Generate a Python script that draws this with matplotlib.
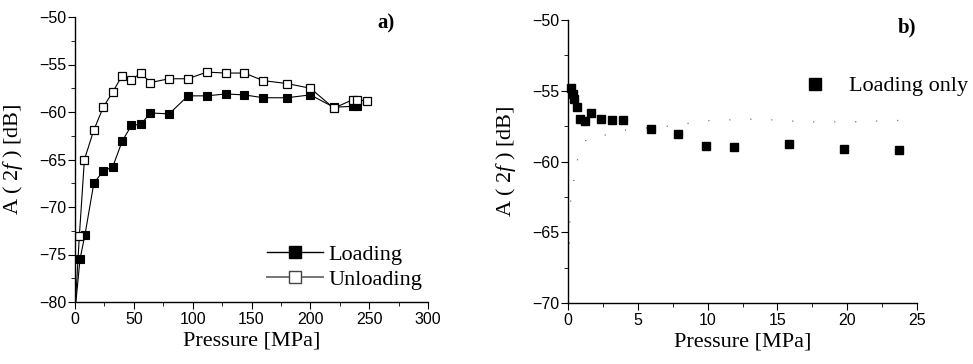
import matplotlib
matplotlib.use("Agg")
import matplotlib.pyplot as plt
from matplotlib.lines import Line2D
from matplotlib.ticker import MultipleLocator

# ---- data -------------------------------------------------------------
# panel a: amplitude of the second harmonic vs pressure, full cycle
load_p = [0, 4.25, 8.5, 16, 24, 32, 40, 48, 56, 64, 80, 96, 112, 128, 144,
          160, 180, 200, 220, 236, 240]
load_a = [-81, -75.5, -72.9, -67.5, -66.2, -65.8, -63.1, -61.4, -61.3, -60.1,
          -60.2, -58.3, -58.3, -58.1, -58.2, -58.5, -58.5, -58.2, -59.5,
          -59.4, -59.4]

unload_p = [0, 3.7, 8, 16, 24, 32, 40, 48, 56, 64, 80, 96, 112, 128, 144,
            160, 180, 200, 220, 236, 240, 248]
unload_a = [-81, -73.05, -65.0, -61.9, -59.5, -57.9, -56.2, -56.6, -55.9,
            -56.9, -56.5, -56.5, -55.8, -55.9, -55.9, -56.7, -57.0, -57.5,
            -59.6, -58.7, -58.7, -58.85]

# panel b: low-pressure loading only
lo_p = [0.25, 0.33, 0.43, 0.62, 0.86, 1.19, 1.62, 2.38, 3.17, 3.95, 5.93,
        7.9, 9.88, 11.9, 15.8, 19.8, 23.7]
lo_a = [-54.83, -55.23, -55.6, -56.17, -57.0, -57.12, -56.6, -56.98, -57.1,
        -57.05, -57.73, -58.04, -58.93, -58.98, -58.75, -59.1, -59.2]

# fitted trend curve for panel b
fit_p = [0.10, 0.14, 0.21, 0.31, 0.50, 0.69, 1.05, 1.38, 1.74, 2.6, 3.43,
         5.1, 6.8, 10.2, 13.6, 17.0, 20.3, 23.7]
fit_a = [-65.8, -63.86, -62.5, -62.2, -60.66, -59.85, -58.84, -58.37,
         -58.25, -58.15, -57.85, -57.66, -57.55, -57.1, -57.0, -57.2,
         -57.2, -57.1]

# ---- style ------------------------------------------------------------
plt.rcParams.update({
    "font.family": "Liberation Sans",
    "font.size": 11.5,
    "mathtext.fontset": "custom",
    "mathtext.rm": "Liberation Serif",
    "mathtext.it": "Liberation Serif:italic",
    "axes.linewidth": 1.0,
    "xtick.direction": "out",
    "ytick.direction": "out",
    "xtick.major.size": 5,
    "ytick.major.size": 5,
    "xtick.minor.size": 3,
    "ytick.minor.size": 3,
    "xtick.major.pad": 2.5,
    "ytick.major.pad": 1.0,
})
SERIF = "Liberation Serif"

fig = plt.figure(figsize=(9.73, 3.64), dpi=100)
ax_a = fig.add_axes([75 / 973, 62 / 364, 353 / 973, 285 / 364])
ax_b = fig.add_axes([568 / 973, 61 / 364, 349 / 973, 283 / 364])

for ax in (ax_a, ax_b):
    ax.spines["top"].set_visible(False)
    ax.spines["right"].set_visible(False)
    ax.set_xlabel("Pressure [MPa]", family=SERIF, fontsize=16, labelpad=3)
    ax.set_ylabel(r"A ( $\mathit{2f}$ ) [dB]", family=SERIF, fontsize=16)

# ---- panel a ----------------------------------------------------------
ax_a.plot(load_p, load_a, color="black", lw=0.8, marker="s", ms=6.2,
          mfc="black", mec="black", mew=0.8)
ax_a.plot(unload_p, unload_a, color="black", lw=0.8, marker="s", ms=6.2,
          mfc="white", mec="black", mew=0.9)
ax_a.set_xlim(0, 300)
ax_a.set_ylim(-80, -50)
ax_a.xaxis.set_major_locator(MultipleLocator(50))
ax_a.xaxis.set_minor_locator(MultipleLocator(25))
ax_a.yaxis.set_major_locator(MultipleLocator(5))
ax_a.yaxis.set_minor_locator(MultipleLocator(2.5))
ax_a.yaxis.set_label_coords(-0.142, 0.5)

h_load = Line2D([], [], color="black", lw=1.0, marker="s", ms=8,
                mfc="black", mec="black")
h_unload = Line2D([], [], color="#777777", lw=1.4, marker="s", ms=8,
                  mfc="white", mec="#444444")
ax_a.legend([h_load, h_unload], ["Loading", "Unloading"], loc="center left",
            bbox_to_anchor=(267 / 973, 97 / 364),
            bbox_transform=fig.transFigure, frameon=False,
            prop={"family": SERIF, "size": 16}, handlelength=2.5,
            handletextpad=0.25, labelspacing=0.2, borderpad=0,
            borderaxespad=0, numpoints=1)
ax_a.text(0.858, 0.979, "a)", transform=ax_a.transAxes, family=SERIF,
          fontsize=15, fontweight="bold", ha="left", va="center")

# ---- panel b ----------------------------------------------------------
ax_b.plot(fit_p, fit_a, color="#555555", lw=0.9, ls=(0, (0.8, 16)))
ax_b.plot(lo_p, lo_a, ls="none", marker="s", ms=6.2, mfc="black",
          mec="black", clip_on=False)
ax_b.set_xlim(0, 25)
ax_b.set_ylim(-70, -50)
ax_b.xaxis.set_major_locator(MultipleLocator(5))
ax_b.xaxis.set_minor_locator(MultipleLocator(2.5))
ax_b.yaxis.set_major_locator(MultipleLocator(5))
ax_b.yaxis.set_minor_locator(MultipleLocator(2.5))
ax_b.yaxis.set_label_coords(-0.143, 0.5)

h_lo = Line2D([], [], ls="none", marker="s", ms=8.5, mfc="black",
              mec="black")
ax_b.legend([h_lo], ["Loading only"], loc="center left",
            bbox_to_anchor=(798 / 973, 278 / 364),
            bbox_transform=fig.transFigure, frameon=False,
            prop={"family": SERIF, "size": 16}, handlelength=1.5,
            handletextpad=0.8, borderpad=0, borderaxespad=0, numpoints=1)
ax_b.text(0.946, 0.972, "b)", transform=ax_b.transAxes, family=SERIF,
          fontsize=15, fontweight="bold", ha="left", va="center")

fig.savefig("out.png", dpi=100)
